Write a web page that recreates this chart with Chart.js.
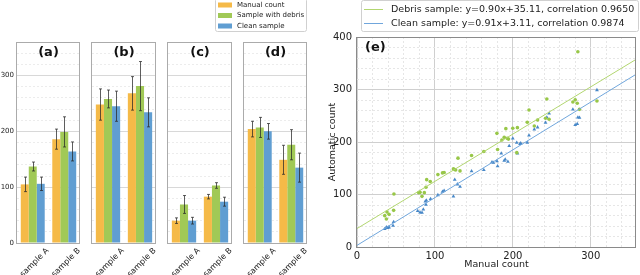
<!DOCTYPE html>
<html>
<head>
<meta charset="utf-8">
<script src="https://cdn.jsdelivr.net/npm/chart.js@4.4.1/dist/chart.umd.min.js"></script>
<style>
  html, body { margin: 0; padding: 0; background: #fff; }
  #wrap { position: relative; width: 640px; height: 275px; overflow: hidden; background: #fff; }
  #wrap canvas { position: absolute; top: 0; }
</style>
</head>
<body>
<div id="wrap"></div>
<script>
// ---- data ----
const categories = ['sample A', 'sample B'];
const panelTitles = ['(a)', '(b)', '(c)', '(d)'];
const seriesNames = ['Manual count', 'Sample with debris', 'Clean sample'];
const manualCount = [[105, 186], [248, 268], [40, 83], [204, 149]];
const manualErr = [[13, 18], [28, 30], [5, 4], [14, 26]];
const debrisCount = [[137, 199], [258, 281], [69, 103], [207, 176]];
const debrisErr = [[8, 27], [16, 44], [16, 5], [18, 27]];
const cleanCount = [[106, 164], [245, 234], [40, 74], [200, 135]];
const cleanErr = [[12, 17], [27, 26], [6, 8], [14, 26]];
const barTicks = [0, 100, 200, 300];

const debrisX = [35.6, 37.7, 38.5, 41.1, 47, 47.4, 79.2, 80.9, 83.4, 86.4, 88.5, 89.4, 94,
  103.8, 109.7, 111.8, 123.7, 125.4, 126.6, 129.6, 132.2, 147, 162.7, 179.5, 180.4, 185.9, 188.9,
  191, 192.7, 194.4, 199.9, 205, 205.8, 218.5, 220.7, 227.5, 231.7, 241.9, 243.6, 246.5,
  277, 280, 282.6, 283.4, 285.5, 307.9];
const debrisY = [59.7, 53.3, 66.7, 62.2, 69.8, 101, 103.5, 104.1, 96.5, 103.5, 113.7, 128.3, 124.8,
  137.9, 141.1, 141.8, 148.8, 147.6, 146.7, 169.2, 145, 174.3, 181.9, 216.5, 185.7, 203.8, 208.9,
  225.4, 207, 205.5, 226.1, 179.7, 227.3, 237.5, 261, 230.5, 241.9, 245.1, 282, 243.2,
  276.2, 280.4, 273.7, 372, 262.2, 278.1];
const cleanX = [35.6, 37.7, 39.4, 41.1, 46.2, 47, 77.9, 80.9, 83.4, 85.1, 87.7, 88.5, 89, 94.4,
  103.8, 109.7, 111.8, 123.7, 125.4, 128.8, 132.2, 147, 162.7, 173.2, 175, 179.6, 180.4, 185.1,
  188.9, 190.2, 193.6, 195.3, 199.9, 205, 205.8, 209.2, 210.1, 218.5, 220.7, 227.5, 231.7,
  241.9, 243.6, 246.5, 277, 280, 282.6, 283.4, 285.5, 307.9];
const cleanY = [34.3, 37.5, 36.2, 37.5, 40.6, 47.6, 68.6, 66, 65.4, 71.7, 86.9, 80.6, 88.8, 91.4,
  99, 105.4, 107.3, 96.5, 128.3, 119.4, 115, 144.4, 146.9, 161.6, 160.8, 163.5, 153.9, 178.4,
  164.4, 167, 162.5, 192.4, 207, 198.7, 178.4, 196.2, 197.5, 198.7, 212.7, 224.1, 228,
  236.8, 247, 254.6, 262.2, 232.4, 234.3, 247, 246.3, 299];
const fitSlope = [0.90, 0.91];
const fitIntercept = [35.11, 3.11];
const fitLabels = ['Debris sample: y=0.90x+35.11, correlation 0.9650',
  'Clean sample: y=0.91x+3.11, correlation 0.9874'];
const scatterTicks = [0, 100, 200, 300, 400];

// ---- style ----
const FONT = '"DejaVu Sans", sans-serif';
Chart.defaults.font.family = FONT;
Chart.defaults.color = '#222';
const barColors = ['rgb(245,186,72)', 'rgb(161,201,86)', 'rgb(96,158,210)'];
const dotGreen = 'rgb(152,199,72)';
const dotBlue = 'rgb(72,136,200)';
const lineGreen = 'rgb(178,214,112)';
const lineBlue = 'rgb(112,166,220)';

const wrap = document.getElementById('wrap');
function addCanvas(left, width) {
  const c = document.createElement('canvas');
  c.width = width; c.height = 275;
  c.style.left = left + 'px';
  c.style.width = width + 'px';
  c.style.height = '275px';
  wrap.appendChild(c);
  return c.getContext('2d');
}

const isMajor = ctx => ctx.tick && ctx.tick.value % 100 === 0;
const gridColor = (maj, min) => ctx => isMajor(ctx) ? maj : min;
const gridDash = ctx => isMajor(ctx) ? [] : [2, 2];

// error bars drawn from each bar element and the y scale
const errorBars = {
  id: 'errorBars',
  afterDatasetsDraw(chart) {
    const ctx = chart.ctx, y = chart.scales.y;
    ctx.save();
    ctx.strokeStyle = 'rgba(40,40,40,0.75)';
    ctx.lineWidth = 1;
    chart.data.datasets.forEach((ds, i) => {
      chart.getDatasetMeta(i).data.forEach((bar, j) => {
        const top = y.getPixelForValue(ds.data[j] + ds.errors[j]);
        const bot = y.getPixelForValue(ds.data[j] - ds.errors[j]);
        const x = Math.round(bar.x) + 0.5;
        ctx.beginPath();
        ctx.moveTo(x, top); ctx.lineTo(x, bot);
        ctx.moveTo(x - 1.5, top); ctx.lineTo(x + 1.5, top);
        ctx.moveTo(x - 1.5, bot); ctx.lineTo(x + 1.5, bot);
        ctx.stroke();
      });
    });
    ctx.restore();
  }
};

const frame = {
  id: 'frame',
  afterDatasetsDraw(chart, args, opts) {
    const a = chart.chartArea, ctx = chart.ctx;
    ctx.save();
    ctx.strokeStyle = opts.color || '#aaa';
    ctx.lineWidth = 1;
    ctx.strokeRect(Math.round(a.left) - 0.5, Math.round(a.top) + 0.5,
      Math.round(a.right - a.left), Math.round(a.bottom - a.top));
    ctx.restore();
  }
};

const panelTitle = {
  id: 'panelTitle',
  afterDraw(chart, args, opts) {
    if (!opts.text) return;
    const a = chart.chartArea, ctx = chart.ctx;
    ctx.save();
    ctx.font = 'bold 13px ' + FONT;
    ctx.fillStyle = '#111';
    ctx.textBaseline = 'middle';
    ctx.textAlign = opts.left ? 'left' : 'center';
    ctx.fillText(opts.text, opts.left ? a.left + opts.left : (a.left + a.right) / 2, a.top + 11);
    ctx.restore();
  }
};

function legendBox(ctx, x, y, w, h) {
  ctx.beginPath();
  ctx.roundRect(x, y, w, h, 2);
  ctx.fillStyle = 'rgba(255,255,255,0.85)';
  ctx.fill();
  ctx.strokeStyle = '#d0d0d0';
  ctx.lineWidth = 1;
  ctx.stroke();
}

const barLegend = {
  id: 'barLegend',
  afterDraw(chart, args, opts) {
    if (!opts.show) return;
    const ctx = chart.ctx;
    ctx.save();
    legendBox(ctx, 1.5, -1.5, 91, 33);
    ctx.font = '7px ' + FONT;
    ctx.textBaseline = 'middle';
    ctx.textAlign = 'left';
    chart.data.datasets.forEach((ds, i) => {
      const y = 5 + i * 10.5;
      ctx.fillStyle = ds.backgroundColor;
      ctx.fillRect(4, y - 2.5, 14, 5);
      ctx.fillStyle = '#222';
      ctx.fillText(ds.label, 23, y);
    });
    ctx.restore();
  }
};

// ---- bar panels (a)-(d) ----
const panelLeft = [17, 92, 168, 244];
const panelRight = [80, 156, 232, 307];
panelTitles.forEach((title, p) => {
  const yw = p === 0 ? 17 : 0;
  const left = panelLeft[p] - 30;
  const width = panelRight[p] - panelLeft[p] + 30 + 4;
  const values = [manualCount[p], debrisCount[p], cleanCount[p]];
  const errs = [manualErr[p], debrisErr[p], cleanErr[p]];
  new Chart(addCanvas(left, width), {
    type: 'bar',
    data: {
      labels: categories,
      datasets: seriesNames.map((name, s) => ({
        label: name,
        data: values[s],
        errors: errs[s],
        backgroundColor: barColors[s],
        borderWidth: 0,
        categoryPercentage: 0.76,
        barPercentage: 1.0
      }))
    },
    options: {
      responsive: false,
      animation: false,
      devicePixelRatio: 1,
      layout: { padding: { left: 30 - yw, right: 4, top: 42, bottom: 0 } },
      plugins: {
        legend: { display: false },
        tooltip: { enabled: false },
        panelTitle: { text: title },
        barLegend: { show: p === 3 },
        frame: { color: '#ababab' }
      },
      scales: {
        x: {
          grid: { display: false, drawTicks: false },
          border: { display: false },
          ticks: {
            minRotation: 45, maxRotation: 45, autoSkip: false,
            font: { size: 8 }, color: '#222', labelOffset: 15, padding: 3
          },
          afterFit: s => { s.height = 32; }
        },
        y: {
          min: 0, max: 360,
          grid: { color: gridColor('#d8d8d8', '#ececec'), drawTicks: false },
          border: { display: false, dash: gridDash },
          ticks: {
            display: p === 0, stepSize: 20, autoSkip: false,
            font: { size: 7 }, color: '#222', padding: 3,
            callback: v => barTicks.includes(v) ? v : ''
          },
          afterFit: s => { s.width = yw; }
        }
      }
    },
    plugins: [errorBars, frame, panelTitle, barLegend]
  });
});

// ---- scatter panel (e) ----
const xMax = 358;
const scatterLegend = {
  id: 'scatterLegend',
  afterDraw(chart) {
    const ctx = chart.ctx;
    ctx.save();
    legendBox(ctx, 41.5, 0.5, 277, 31);
    ctx.font = '9.5px ' + FONT;
    ctx.textBaseline = 'middle';
    ctx.textAlign = 'left';
    chart.data.datasets.filter(ds => ds.showLine).forEach((ds, i) => {
      const y = 9.5 + i * 14;
      ctx.strokeStyle = ds.borderColor;
      ctx.lineWidth = 1;
      ctx.beginPath(); ctx.moveTo(44, y); ctx.lineTo(63, y); ctx.stroke();
      ctx.fillStyle = '#222';
      ctx.fillText(ds.label, 71, y);
    });
    ctx.restore();
  }
};

const fitLine = k => [0, xMax].map(x => ({ x, y: fitSlope[k] * x + fitIntercept[k] }));

new Chart(addCanvas(320, 320), {
  type: 'scatter',
  data: {
    datasets: [
      { label: fitLabels[0], data: fitLine(0), showLine: true, borderColor: lineGreen, borderWidth: 1, pointRadius: 0 },
      { label: fitLabels[1], data: fitLine(1), showLine: true, borderColor: lineBlue, borderWidth: 1, pointRadius: 0 },
      { label: 'Debris sample', data: debrisX.map((x, i) => ({ x, y: debrisY[i] })),
        pointStyle: 'circle', pointRadius: 1.8, pointBorderWidth: 0, backgroundColor: dotGreen },
      { label: 'Clean sample', data: cleanX.map((x, i) => ({ x, y: cleanY[i] })),
        pointStyle: 'triangle', pointRadius: 2.2, pointBorderWidth: 0, backgroundColor: dotBlue }
    ]
  },
  options: {
    responsive: false,
    animation: false,
    devicePixelRatio: 1,
    layout: { padding: { left: 0, right: 1, top: 37, bottom: 0 } },
    plugins: {
      legend: { display: false },
      tooltip: { enabled: false },
      panelTitle: { text: '(e)', left: 8 },
      frame: { color: '#8a8a8a' }
    },
    scales: {
      x: {
        type: 'linear', min: 0, max: xMax,
        grid: { color: gridColor('#cfcfcf', '#e6e6e6'), drawTicks: false },
        border: { display: false, dash: gridDash },
        ticks: {
          stepSize: 20, includeBounds: false, autoSkip: false, maxRotation: 0,
          font: { size: 10 }, color: '#222', padding: 3,
          callback: v => scatterTicks.includes(v) ? v : ''
        },
        title: { display: true, text: 'Manual count', font: { size: 9.5 }, color: '#222', padding: { top: 0, bottom: 5 } },
        afterFit: s => { s.height = 28; }
      },
      y: {
        min: 0, max: 400,
        grid: { color: gridColor('#cfcfcf', '#e6e6e6'), drawTicks: false },
        border: { display: false, dash: gridDash },
        ticks: {
          stepSize: 20, autoSkip: false,
          font: { size: 10 }, color: '#222', padding: 5,
          callback: v => scatterTicks.includes(v) ? v : ''
        },
        title: { display: true, text: 'Automatic count', font: { size: 9.5 }, color: '#222', padding: { top: 7, bottom: 0 } },
        afterFit: s => { s.width = 37; }
      }
    }
  },
  plugins: [frame, panelTitle, scatterLegend]
});
</script>
</body>
</html>
